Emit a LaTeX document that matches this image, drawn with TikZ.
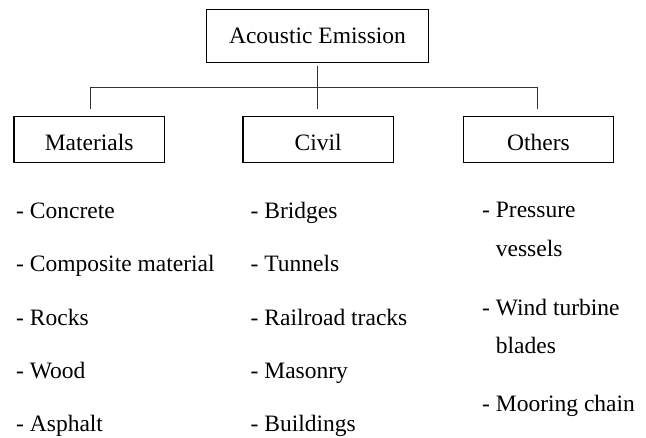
\documentclass[tikz,border=0pt]{standalone}
\usepackage{fontspec}
\setmainfont{Liberation Serif}
\begin{document}
\begin{tikzpicture}[x=1pt,y=-1pt,
  every node/.style={font=\fontsize{23.5}{28}\selectfont, inner sep=0pt},
  topbox/.style={draw, line width=1.3pt, minimum width=221.6pt, minimum height=53.4pt},
  catbox/.style={draw, line width=1.3pt, minimum width=150.3pt, minimum height=46pt, text height=22pt, text depth=0.6pt},
  conn/.style={line width=1pt, draw=black!80},
  item/.style={anchor=base west}]
\useasboundingbox (0,0) rectangle (646,437);

\node[topbox] (ae) at (317.5,36) {Acoustic Emission};
\node[catbox] (mat) at (89.2,139.7) {Materials};
\node[catbox] (civ) at (318.2,139.7) {Civil};
\node[catbox] (oth) at (538.4,139.7) {Others};

\coordinate (ctop) at (317.5,66);
\coordinate (cbot) at (317.5,109);
\coordinate (lbend) at (90,87.3);
\coordinate (lbot) at (90,109);
\coordinate (rbend) at (537.3,87.3);
\coordinate (rbot) at (537.3,109);
\draw[conn] (ctop) -- (cbot);
\draw[conn] (lbot) -- (lbend) -- (rbend) -- (rbot);

\node[item] (m1) at (16,218.5) {- Concrete};
\node[item] (m2) at (16,271.8) {- Composite material};
\node[item] (m3) at (16,325.1) {- Rocks};
\node[item] (m4) at (16,378.4) {- Wood};
\node[item] (m5) at (16,431.7) {- Asphalt};

\node[item] (c1) at (250.5,218.5) {- Bridges};
\node[item] (c2) at (250.5,271.8) {- Tunnels};
\node[item] (c3) at (250.5,325.1) {- Railroad tracks};
\node[item] (c4) at (250.5,378.4) {- Masonry};
\node[item] (c5) at (250.5,431.7) {- Buildings};

\node[item] (o1a) at (482,217.3) {- Pressure};
\node[item] (o1b) at (495.7,256) {vessels};
\node[item] (o2a) at (482,315) {- Wind turbine};
\node[item] (o2b) at (495.7,353.3) {blades};
\node[item] (o3) at (482,411.7) {- Mooring chain};
\end{tikzpicture}
\end{document}
